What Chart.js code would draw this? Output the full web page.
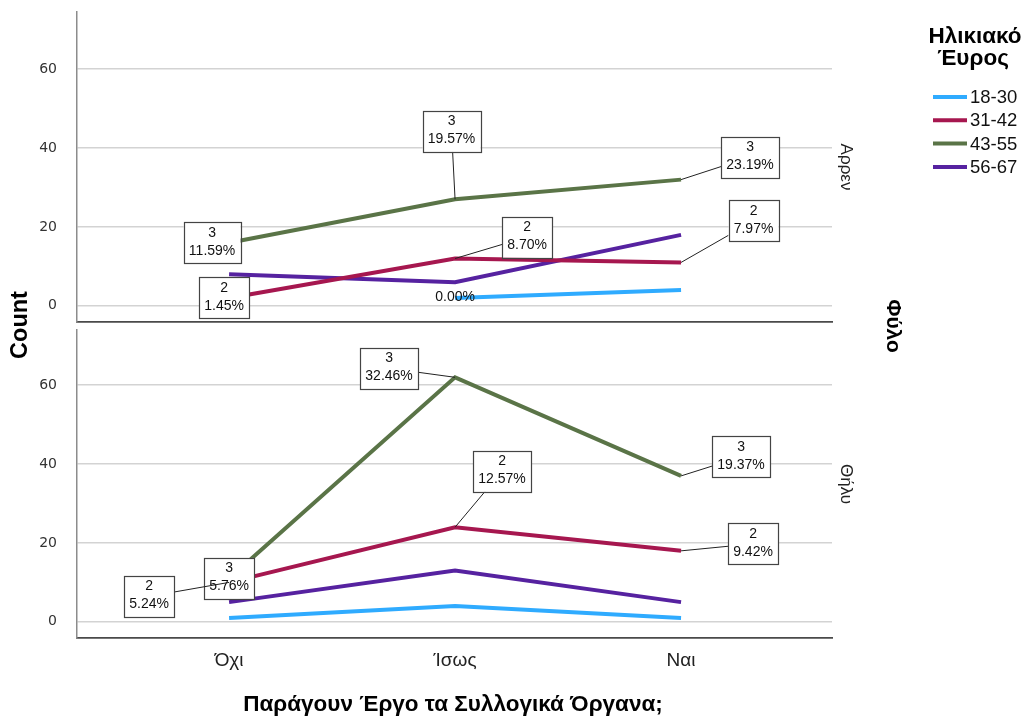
<!DOCTYPE html>
<html>
<head>
<meta charset="utf-8">
<script src="https://cdn.jsdelivr.net/npm/chart.js@4/dist/chart.umd.min.js"></script>
<style>
  html, body { margin: 0; padding: 0; background: #ffffff; }
  #wrap { position: relative; width: 1026px; height: 719px; }
  #wrap canvas { position: absolute; left: 0; top: 0; }
</style>
</head>
<body>
<div id="wrap">
  <canvas id="topPanel" width="1026" height="719"></canvas>
  <canvas id="bottomPanel" width="1026" height="719"></canvas>
</div>
<script>
// Categories and series
const categories = ['Όχι', 'Ίσως', 'Ναι'];
const ageGroups = ['18-30', '31-42', '43-55', '56-67'];
const yTicks = [0, 20, 40, 60];

// Άρρεν counts per answer
const male18_30 = [null, 2, 4];
const male31_42 = [2, 12, 11];
const male43_55 = [16, 27, 32];
const male56_67 = [8, 6, 18];

// Θήλυ counts per answer
const female18_30 = [1, 4, 1];
const female31_42 = [10, 24, 18];
const female43_55 = [11, 62, 37];
const female56_67 = [5, 13, 5];

const panelNames = ['Αρρεν', 'Θήλυ'];
const xTitle = 'Παράγουν Έργο τα Συλλογικά Όργανα;';
const yTitle = 'Count';
const facetTitle = 'Φύλο';
const legendTitle = ['Ηλικιακό', 'Έυρος'];

// Styling
const groupColors = ['#2fabff', '#a6174f', '#5a7447', '#5622a0'];
const FONT = "'Liberation Sans', Arial, sans-serif";

// Callout placement (offset of the box centre from its point, px)
const maleCallouts = [
  { g: 2, c: 0, dx: -17, dy: 0 },
  { g: 1, c: 0, dx: -5, dy: 0 },
  { g: 2, c: 1, dx: -3.5, dy: -68 },
  { g: 1, c: 1, dx: 72, dy: -21.5 },
  { g: 2, c: 2, dx: 69, dy: -22.5 },
  { g: 1, c: 2, dx: 72.5, dy: -41.5 },
  { g: 0, c: 1, dx: 0, dy: -1, plain: '0.00%' }
];
const femaleCallouts = [
  { g: 2, c: 1, dx: -66, dy: -9 },
  { g: 1, c: 1, dx: 47, dy: -56 },
  { g: 2, c: 2, dx: 60, dy: -19 },
  { g: 1, c: 2, dx: 72, dy: -7 },
  { g: 2, c: 0, dx: 0, dy: 0 },
  { g: 1, c: 0, dx: -80, dy: 14 }
];

const maleSeries = [male18_30, male31_42, male43_55, male56_67];
const femaleSeries = [female18_30, female31_42, female43_55, female56_67];

function panelTotal(series) {
  return series.reduce((s, arr) => s + arr.reduce((a, v) => a + (v || 0), 0), 0);
}

function makeDatasets(series) {
  return series.map((arr, g) => ({
    label: ageGroups[g],
    data: arr.map((v, i) => ({ x: i, y: v })),
    borderColor: groupColors[g],
    backgroundColor: groupColors[g],
    borderWidth: 4,
    pointRadius: 0,
    pointHoverRadius: 0,
    tension: 0,
    spanGaps: false
  }));
}

// Boxed value callouts with leader lines
const calloutPlugin = {
  id: 'callouts',
  afterDatasetsDraw(chart, args, opts) {
    const ctx = chart.ctx;
    const xs = chart.scales.x, ys = chart.scales.y;
    const series = opts.series;
    const total = panelTotal(series);
    ctx.save();
    ctx.font = '14px ' + FONT;
    ctx.textAlign = 'center';
    ctx.textBaseline = 'middle';
    opts.items.forEach(item => {
      const v = series[item.g][item.c];
      const px = xs.getPixelForValue(item.c);
      const py = ys.getPixelForValue(v);
      const cx = px + item.dx, cy = py + item.dy;
      if (item.plain) {
        ctx.fillStyle = '#111';
        ctx.fillText(item.plain, cx, cy);
        return;
      }
      const line1 = String(item.g + 1);
      const line2 = (v / total * 100).toFixed(2) + '%';
      const w = Math.ceil(Math.max(ctx.measureText(line1).width, ctx.measureText(line2).width)) + 10;
      const h = 41;
      const l = cx - w / 2, r = cx + w / 2, t = cy - h / 2, b = cy + h / 2;
      const inside = px >= l && px <= r && py >= t && py <= b;
      if (!inside) {
        // leader from the point toward the box centre, stopping at the edge
        const ddx = cx - px, ddy = cy - py;
        let tHit = 1;
        if (ddx !== 0) {
          [l, r].forEach(ex => {
            const tt = (ex - px) / ddx;
            const yy = py + tt * ddy;
            if (tt > 0 && tt < tHit && yy >= t - 0.01 && yy <= b + 0.01) tHit = tt;
          });
        }
        if (ddy !== 0) {
          [t, b].forEach(ey => {
            const tt = (ey - py) / ddy;
            const xx = px + tt * ddx;
            if (tt > 0 && tt < tHit && xx >= l - 0.01 && xx <= r + 0.01) tHit = tt;
          });
        }
        ctx.beginPath();
        ctx.strokeStyle = '#222';
        ctx.lineWidth = 1;
        ctx.moveTo(px, py);
        ctx.lineTo(px + ddx * tHit, py + ddy * tHit);
        ctx.stroke();
      }
      ctx.fillStyle = '#ffffff';
      ctx.fillRect(l, t, w, h);
      ctx.strokeStyle = '#444';
      ctx.lineWidth = 1.2;
      ctx.strokeRect(Math.round(l) + 0.5, Math.round(t) + 0.5, Math.round(w), Math.round(h));
      ctx.fillStyle = '#111';
      ctx.fillText(line1, cx, cy - 10);
      ctx.fillText(line2, cx, cy + 8);
    });
    ctx.restore();
  }
};

// Panel name on the right edge, rotated
const facetLabelPlugin = {
  id: 'facetLabel',
  afterDraw(chart, args, opts) {
    const ctx = chart.ctx;
    const a = chart.chartArea;
    ctx.save();
    ctx.translate(a.right + 14, (a.top + a.bottom) / 2);
    ctx.rotate(Math.PI / 2);
    ctx.font = '17px ' + FONT;
    ctx.fillStyle = '#222';
    ctx.textAlign = 'center';
    ctx.textBaseline = 'middle';
    ctx.fillText(opts.text, 0, 0);
    ctx.restore();
  }
};

// Shared titles and legend, drawn once on the upper canvas
const frameTextPlugin = {
  id: 'frameText',
  afterDraw(chart) {
    const ctx = chart.ctx;
    ctx.save();
    ctx.fillStyle = '#000';
    ctx.textAlign = 'center';
    ctx.textBaseline = 'middle';

    ctx.font = 'bold 22.5px ' + FONT;
    ctx.fillText(xTitle, 453, 705);

    ctx.save();
    ctx.translate(21, 325);
    ctx.rotate(-Math.PI / 2);
    ctx.font = 'bold 23.5px ' + FONT;
    ctx.fillText(yTitle, 0, 0);
    ctx.restore();

    ctx.save();
    ctx.translate(893, 326);
    ctx.rotate(Math.PI / 2);
    ctx.font = 'bold 21px ' + FONT;
    ctx.fillText(facetTitle, 0, 0);
    ctx.restore();

    ctx.font = 'bold 22.5px ' + FONT;
    ctx.fillText(legendTitle[0], 975, 37);
    ctx.fillText(legendTitle[1], 973, 59);

    ctx.font = '18.5px ' + FONT;
    ctx.textAlign = 'left';
    chart.data.datasets.forEach((ds, i) => {
      const y = 97 + i * 23.3;
      ctx.beginPath();
      ctx.strokeStyle = ds.borderColor;
      ctx.lineWidth = 4;
      ctx.moveTo(933, y);
      ctx.lineTo(967, y);
      ctx.stroke();
      ctx.fillStyle = '#111';
      ctx.fillText(ds.label, 970, y + 1);
    });
    ctx.restore();
  }
};

function yScale(maxV) {
  return {
    type: 'linear',
    min: -4.1,
    max: maxV,
    afterBuildTicks: s => { s.ticks = yTicks.map(v => ({ value: v })); },
    afterFit: s => { s.width = 77; s.paddingTop = 0; s.paddingBottom = 0; },
    grid: { color: '#d3d3d3', lineWidth: 1.5, drawTicks: false },
    border: { display: true, color: '#8c8c8c', width: 1.5 },
    ticks: {
      padding: 20,
      color: '#333',
      font: { family: "'DejaVu Sans', Verdana, sans-serif", size: 14 }
    }
  };
}

function xScale(showLabels) {
  return {
    type: 'linear',
    min: -0.673,
    max: 2.668,
    afterBuildTicks: s => { s.ticks = categories.map((c, i) => ({ value: i })); },
    afterFit: s => { s.height = showLabels ? 81 : 0; s.paddingLeft = 0; s.paddingRight = 0; },
    grid: { display: false, drawTicks: false },
    border: { display: true, color: '#4a4a4a', width: 1.8 },
    ticks: {
      display: showLabels,
      autoSkip: false,
      maxRotation: 0,
      padding: 11,
      color: '#222',
      font: { family: FONT, size: 19 },
      callback: v => categories[v]
    }
  };
}

const common = {
  responsive: false,
  animation: false,
  events: [],
  plugins: { legend: { display: false }, tooltip: { enabled: false } }
};

new Chart(document.getElementById('topPanel'), {
  type: 'line',
  data: { datasets: makeDatasets(maleSeries) },
  options: Object.assign({}, common, {
    layout: { padding: { left: 0, top: 12, right: 194, bottom: 397 } },
    scales: { x: xScale(false), y: yScale(74.5) },
    plugins: Object.assign({}, common.plugins, {
      callouts: { series: maleSeries, items: maleCallouts },
      facetLabel: { text: panelNames[0] }
    })
  }),
  plugins: [calloutPlugin, facetLabelPlugin, frameTextPlugin]
});

new Chart(document.getElementById('bottomPanel'), {
  type: 'line',
  data: { datasets: makeDatasets(femaleSeries) },
  options: Object.assign({}, common, {
    layout: { padding: { left: 0, top: 330, right: 194, bottom: 0 } },
    scales: { x: xScale(true), y: yScale(74) },
    plugins: Object.assign({}, common.plugins, {
      callouts: { series: femaleSeries, items: femaleCallouts },
      facetLabel: { text: panelNames[1] }
    })
  }),
  plugins: [calloutPlugin, facetLabelPlugin]
});
</script>
</body>
</html>
